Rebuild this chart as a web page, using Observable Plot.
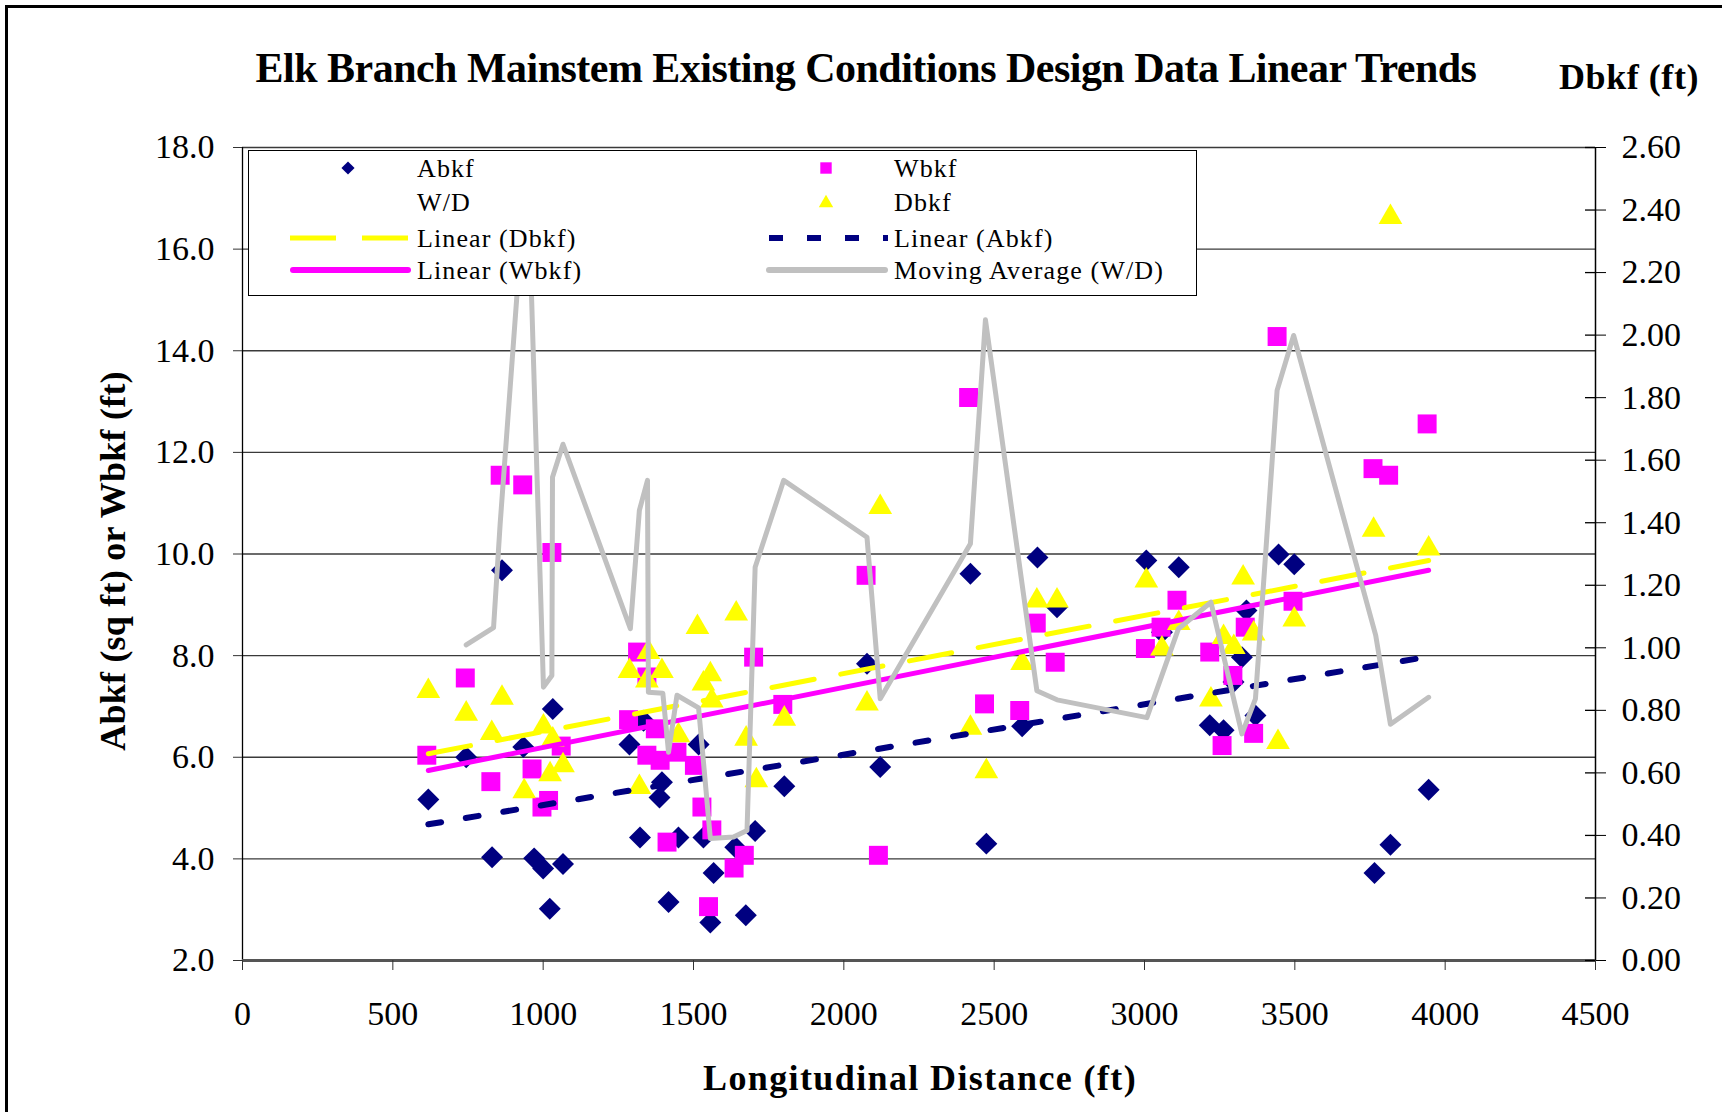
<!DOCTYPE html>
<html><head><meta charset="utf-8">
<script src="https://cdn.jsdelivr.net/npm/d3@7"></script>
<script src="https://cdn.jsdelivr.net/npm/@observablehq/plot@0.6"></script>
<style>
html,body{margin:0;padding:0;background:#fff;overflow:hidden;}
#page{position:relative;width:1722px;height:1112px;overflow:hidden;font-family:'Liberation Serif','Times New Roman',serif;background:#fff;}
#frame{position:absolute;left:5px;top:5px;width:1800px;height:1200px;border:3px solid #000;}
.t{position:absolute;white-space:nowrap;transform:translate(-50%,-50%);font-weight:bold;color:#000;line-height:normal;}
#chart{position:absolute;left:0;top:0;}
#legend{position:absolute;left:248px;top:150px;width:947px;height:144px;background:#fff;border:1.5px solid #000;}
</style></head><body>
<div id="page">
  <div id="frame"></div>
  <div id="chart"></div>
  <div id="legend"></div>
  <div class="t" id="title" style="left:866px;top:68px;font-size:42px;">Elk Branch Mainstem Existing Conditions Design Data Linear Trends</div>
  <div class="t" id="rtitle" style="left:1629px;top:77px;font-size:36px;">Dbkf (ft)</div>
  <div class="t" id="ytitle" style="left:113px;top:561px;font-size:36px;transform:translate(-50%,-50%) rotate(-90deg);">Abkf (sq ft) or Wbkf (ft)</div>
  <div class="t" id="xtitle" style="left:920px;top:1078px;font-size:36px;">Longitudinal Distance (ft)</div>
</div>
<script>
// ---- data ----
const abkfDist = [618,744,830,863,934,970,1000,1022,1032,1066,1287,1322,1334,1387,1395,1417,1450,1517,1533,1556,1567,1639,1674,1705,1802,2077,2121,2421,2474,2593,2644,2709,3006,3058,3114,3217,3263,3296,3324,3339,3369,3446,3498,3765,3818,3945];
const abkfArea = [5.17,6.00,4.03,9.68,6.20,4.01,3.81,3.02,6.95,3.90,6.25,4.42,6.72,5.21,5.51,3.15,4.42,6.25,4.42,2.75,3.72,4.23,2.89,4.55,5.43,7.84,5.81,9.61,4.30,6.61,9.93,8.95,9.87,8.46,9.74,6.63,6.53,7.48,7.97,8.89,6.82,9.99,9.80,3.72,4.28,5.36];

const wbkfDist = [613,741,826,857,932,963,996,1018,1029,1060,1284,1314,1345,1345,1373,1389,1412,1445,1503,1528,1550,1561,1635,1669,1700,1797,2074,2115,2415,2468,2585,2640,2703,3003,3055,3108,3217,3258,3294,3335,3363,3441,3494,3760,3812,3940];
const wbkfWidth = [6.04,7.56,5.52,11.55,11.36,5.77,5.02,5.15,10.03,6.22,6.74,8.07,7.58,6.04,6.56,5.94,4.33,6.10,5.84,5.02,3.06,4.57,3.82,4.07,7.97,7.04,9.58,4.07,13.08,7.05,6.92,8.64,7.87,8.14,8.56,9.09,8.07,6.23,7.61,8.56,6.47,14.28,9.07,11.68,11.55,12.56];

const dbkfDist = [618,744,829,863,937,1001,1023,1032,1066,1287,1320,1345,1350,1395,1450,1513,1533,1556,1561,1642,1675,1709,1802,2077,2121,2421,2474,2593,2642,2709,3006,3058,3114,3221,3263,3297,3328,3363,3444,3498,3762,3818,3945];
const dbkfDepth = [0.861,0.789,0.727,0.840,0.541,0.748,0.595,0.706,0.624,0.925,0.554,0.895,0.986,0.925,0.720,1.066,0.885,0.915,0.831,1.109,0.709,0.576,0.773,0.821,1.450,0.744,0.605,0.951,1.151,1.151,1.215,0.997,1.079,0.834,1.034,1.002,1.224,1.045,0.698,1.090,1.377,2.377,1.317];

const wdMaDist = [744,835,857,947,1001,1029,1031,1066,1290,1320,1347,1350,1398,1417,1445,1517,1556,1633,1678,1705,1800,2077,2121,2421,2471,2642,2709,3008,3113,3221,3324,3369,3441,3496,3769,3818,3945];
const wdMaRatio = [8.21,8.55,10.60,17.85,7.38,7.61,11.51,12.16,8.53,10.86,11.45,7.28,7.26,6.10,7.22,6.97,4.40,4.43,4.56,9.74,11.45,10.33,7.15,10.20,14.61,7.31,7.13,6.78,8.53,9.05,6.46,7.15,13.22,14.30,8.40,6.65,7.18];

// linear trend lines, end values
const trendDist = [618, 3945];
const trendAbkf = [4.68, 7.98];
const trendWbkf = [5.74, 9.68];
const trendDbkf = [0.661, 1.279];

const xTicks = [0,500,1000,1500,2000,2500,3000,3500,4000,4500];
const yTicks = [2,4,6,8,10,12,14,16,18];
const dTicks = [0,0.2,0.4,0.6,0.8,1.0,1.2,1.4,1.6,1.8,2.0,2.2,2.4,2.6];

const legendItems = [
  {label:"Abkf", kind:"diamond", col:0, row:0},
  {label:"Wbkf", kind:"square", col:1, row:0},
  {label:"W/D", kind:"none", col:0, row:1},
  {label:"Dbkf", kind:"triangle", col:1, row:1},
  {label:"Linear (Dbkf)", kind:"dashY", col:0, row:2},
  {label:"Linear (Abkf)", kind:"dotN", col:1, row:2},
  {label:"Linear (Wbkf)", kind:"solidM", col:0, row:3},
  {label:"Moving Average (W/D)", kind:"gray", col:1, row:3}
];

// ---- build ----
const NAVY = "#000080", MAG = "#ff00ff", YEL = "#ffff00", GRAY = "#c0c0c0";
const D_MAX = 2.6, Y_MIN = 2, Y_SPAN = 16;
const yOfD = D => Y_MIN + D * Y_SPAN / D_MAX;
const dOfY = v => (v - Y_MIN) * D_MAX / Y_SPAN;

const abkf = abkfDist.map((d,i)=>({d, v: abkfArea[i]}));
const wbkf = wbkfDist.map((d,i)=>({d, v: wbkfWidth[i]}));
const dbkf = dbkfDist.map((d,i)=>({d, v: yOfD(dbkfDepth[i])}));
const wdMa = wdMaDist.map((d,i)=>({d, v: wdMaRatio[i]}));
const tA = trendDist.map((d,i)=>({d, v: trendAbkf[i]}));
const tW = trendDist.map((d,i)=>({d, v: trendWbkf[i]}));
const tD = trendDist.map((d,i)=>({d, v: yOfD(trendDbkf[i])}));

const W = 1722, H = 1112, ML = 242, MR = 127, MT = 147, MB = 152;
const innerW = W - ML - MR;

const chart = Plot.plot({
  width: W, height: H,
  marginLeft: ML, marginRight: MR, marginTop: MT, marginBottom: MB,
  style: {fontFamily: "'Liberation Serif','Times New Roman',serif", fontSize: "34px", color: "#000", background: "transparent", overflow: "visible"},
  x: {domain: [0, 4500]},
  y: {domain: [2, 18]},
  marks: [
    Plot.gridY(yTicks.filter(t => t > 2), {stroke: "#3a3a3a", strokeOpacity: 1, strokeWidth: 1.3}),
    Plot.dot(abkf, {x: "d", y: "v", symbol: "diamond2", r: 9.9, fill: NAVY}),
    Plot.dot(wbkf, {x: "d", y: "v", symbol: "square", r: 10.7, fill: MAG}),
    Plot.dot(dbkf, {x: "d", y: "v", symbol: "triangle", r: 8.8, fill: YEL}),
    Plot.line(tD, {x: "d", y: "v", stroke: YEL, strokeWidth: 5, strokeDasharray: "43,27"}),
    Plot.line(tA, {x: "d", y: "v", stroke: NAVY, strokeWidth: 6, strokeDasharray: "13,25"}),
    Plot.line(tW, {x: "d", y: "v", stroke: MAG, strokeWidth: 5, strokeLinecap: "round"}),
    Plot.line(wdMa, {x: "d", y: "v", stroke: GRAY, strokeWidth: 5, strokeLinejoin: "round", strokeLinecap: "round"}),
    Plot.ruleX([0], {stroke: "#000", strokeWidth: 1.3}),
    Plot.ruleX([4500], {stroke: "#000", strokeWidth: 1.5}),
    Plot.ruleY([2], {stroke: "#555", strokeWidth: 3}),
    Plot.axisY(yTicks, {anchor: "left", tickSize: 9, tickPadding: 19, tickFormat: d => d.toFixed(1), fontSize: 34, label: null, stroke: "#333"}),
    Plot.axisY(dTicks.map(yOfD), {anchor: "right", tickSize: 10, tickPadding: 16, tickFormat: v => dOfY(v).toFixed(2), fontSize: 34, label: null, stroke: "#000"}),
    Plot.tickY(dTicks.map(yOfD), {y: d => d, insetLeft: innerW - 10, stroke: "#000", strokeWidth: 1.3}),
    Plot.axisX(xTicks, {anchor: "bottom", tickSize: 10, tickPadding: 30, tickFormat: d => String(d), fontSize: 34, label: null, stroke: "#333"})
  ]
});
document.getElementById("chart").appendChild(chart);

// ---- legend (overlay inside the plot area) ----
const rowsY = [17, 51, 87, 119];
const colSym = [99, 577], colLine = [[41,162],[517,639]], colText = [168, 645];
const lg = d3.select("#legend").append("svg").attr("width", 947).attr("height", 144).style("position","absolute").style("left","0").style("top","0");
for (const it of legendItems) {
  const y = rowsY[it.row], c = it.col;
  const sx = colSym[c], [x1, x2] = colLine[c];
  if (it.kind === "diamond") lg.append("path").attr("d", d3.symbol(d3.symbolDiamond2, 110)()).attr("transform", `translate(${sx},${y})`).attr("fill", NAVY);
  if (it.kind === "square") lg.append("path").attr("d", d3.symbol(d3.symbolSquare, 130)()).attr("transform", `translate(${sx},${y})`).attr("fill", MAG);
  if (it.kind === "triangle") lg.append("path").attr("d", d3.symbol(d3.symbolTriangle, 90)()).attr("transform", `translate(${sx},${y+1})`).attr("fill", YEL);
  if (it.kind === "dashY") lg.append("line").attr("x1", x1).attr("x2", x2).attr("y1", y).attr("y2", y).attr("stroke", YEL).attr("stroke-width", 5).attr("stroke-dasharray", "46,26");
  if (it.kind === "dotN") lg.append("line").attr("x1", x1+3).attr("x2", x2).attr("y1", y).attr("y2", y).attr("stroke", NAVY).attr("stroke-width", 6).attr("stroke-dasharray", "14,24");
  if (it.kind === "solidM") lg.append("line").attr("x1", x1+3).attr("x2", x2-3).attr("y1", y).attr("y2", y).attr("stroke", MAG).attr("stroke-width", 6).attr("stroke-linecap", "round");
  if (it.kind === "gray") lg.append("line").attr("x1", x1+3).attr("x2", x2-3).attr("y1", y).attr("y2", y).attr("stroke", GRAY).attr("stroke-width", 6).attr("stroke-linecap", "round");
  lg.append("text").attr("x", colText[c]).attr("y", y).attr("dy", "0.34em")
    .attr("font-family", "'Liberation Serif','Times New Roman',serif").attr("font-size", 26)
    .attr("letter-spacing", "1.1px").attr("fill", "#000").text(it.label);
}

// ---- fit title widths ----
function fitText(id, target) {
  const el = document.getElementById(id);
  el.style.letterSpacing = "0px";
  const w = el.offsetWidth, n = el.textContent.length;
  el.style.letterSpacing = ((target - w) / n) + "px";
}
function fitAll() {
  fitText("title", 1221);
  fitText("rtitle", 140);
  fitText("ytitle", 380);
  fitText("xtitle", 434);
}
fitAll();
if (document.fonts && document.fonts.ready) document.fonts.ready.then(fitAll);
</script>
</body></html>
